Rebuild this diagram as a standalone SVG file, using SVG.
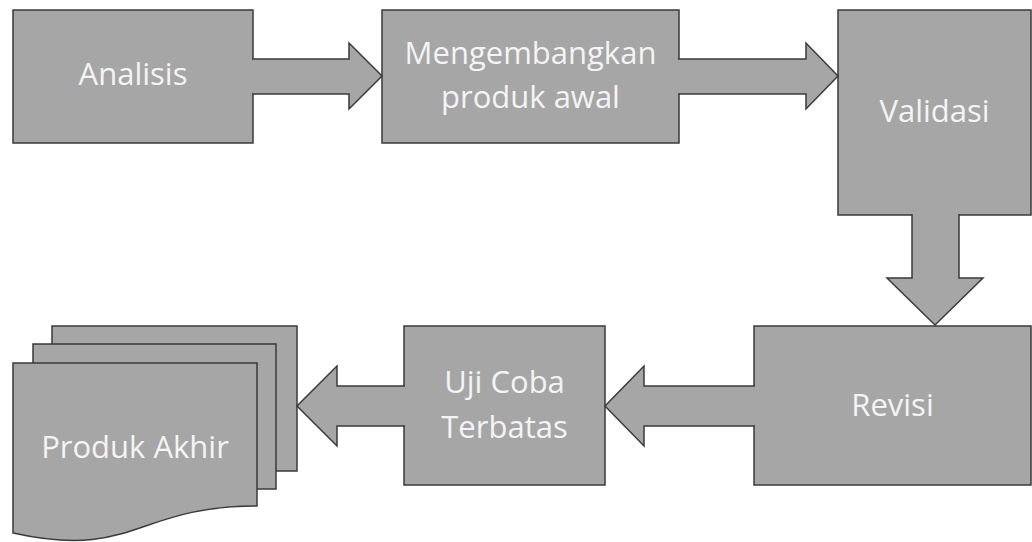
<svg xmlns="http://www.w3.org/2000/svg" width="1032" height="542" viewBox="0 0 1032 542">
<style>
.s{fill:#a6a6a6;stroke:#3a3a3a;stroke-width:1.5;stroke-linejoin:miter}
.t{font-family:"Open Sans","Noto Sans",sans-serif;font-size:31px;fill:#f4f4f4;text-anchor:middle}
</style>
<rect width="1032" height="542" fill="#ffffff"/>
<g id="analisis">
<rect class="s" x="13" y="10" width="240" height="133"/>
<text class="t" x="133" y="85">Analisis</text>
</g>
<g id="mengembangkan">
<rect class="s" x="382" y="10" width="297" height="133"/>
<text class="t" x="530.5" y="64">Mengembangkan</text>
<text class="t" x="530.5" y="108">produk awal</text>
</g>
<g id="validasi">
<rect class="s" x="838" y="10" width="193" height="205"/>
<text class="t" x="934.5" y="122">Validasi</text>
</g>
<g id="revisi">
<rect class="s" x="754" y="326" width="277" height="159"/>
<text class="t" x="892.5" y="416">Revisi</text>
</g>
<g id="uji-coba">
<rect class="s" x="404" y="326" width="201" height="159"/>
<text class="t" x="504.5" y="393">Uji Coba</text>
<text class="t" x="504.5" y="438">Terbatas</text>
</g>
<g id="produk-akhir">
<rect class="s" x="52" y="326" width="245" height="145"/>
<rect class="s" x="33" y="344" width="243" height="145"/>
<path class="s" d="M13,363 L257,363 L257,506 C135,506 135,560 13,533 Z"/>
<text class="t" x="135" y="458">Produk Akhir</text>
</g>
<g id="connectors">
<path class="s" d="M252,59 L349,59 L349,43 L382,76 L349,109 L349,94 L252,94"/>
<path class="s" d="M678,59 L806,59 L806,43 L838,76 L806,109 L806,94 L678,94"/>
<path class="s" d="M912,214 L912,278 L887,278 L935,325 L983,278 L959,278 L959,214"/>
<path class="s" d="M755,386 L644,386 L644,366 L605,406 L644,446 L644,426 L755,426"/>
<path class="s" d="M405,386 L337,386 L337,366 L297,406 L337,446 L337,426 L405,426"/>
</g>
</svg>
